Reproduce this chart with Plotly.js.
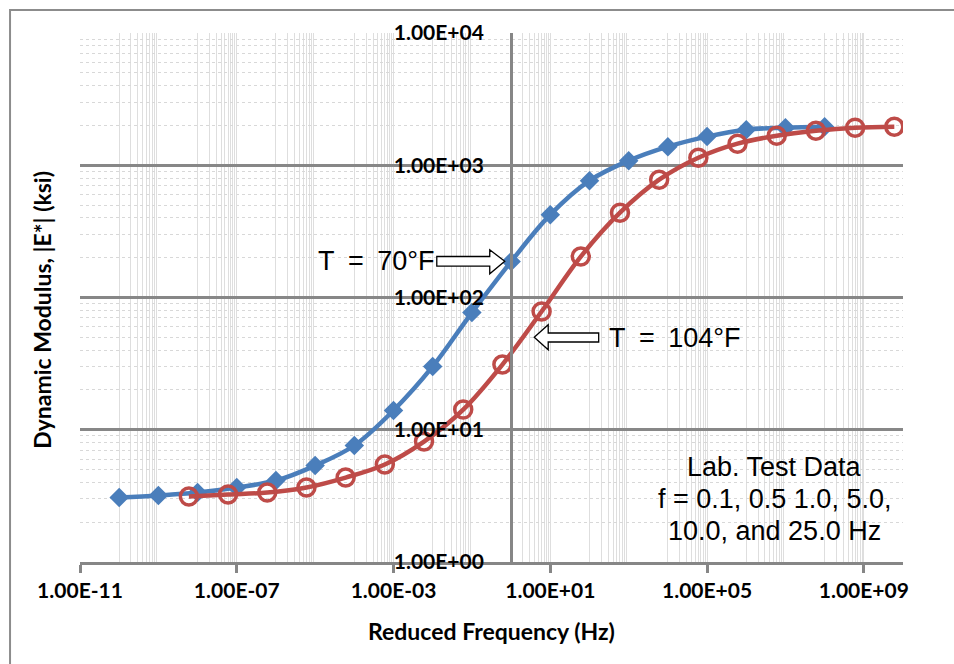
<!DOCTYPE html>
<html>
<head>
<meta charset="utf-8">
<script src="https://cdn.plot.ly/plotly-3.0.1.min.js"></script>
<style>html,body{margin:0;padding:0;background:#fff;}</style>
</head>
<body>
<div id="chart" style="width:954px;height:664px;"></div>
<script>
// ---- data ----
const freq70 = [1e-10, 1e-9, 1e-8, 1e-7, 1e-6, 1e-5, 1e-4, 1e-3, 1e-2, 1e-1, 1e0, 1e1, 1e2, 1e3, 1e4, 1e5, 1e6, 1e7, 1e8];
const mod70 = [3.07, 3.18, 3.35, 3.66, 4.13, 5.36, 7.6, 14.0, 30.1, 76.9, 187, 423, 765, 1083, 1383, 1647, 1859, 1925, 1958];
const freq104 = [6e-9, 6e-8, 6e-7, 6e-6, 6e-5, 6e-4, 6e-3, 6e-2, 6e-1, 6e0, 6e1, 6e2, 6e3, 6e4, 6e5, 6e6, 6e7, 6e8, 6e9];
const mod104 = [3.13, 3.24, 3.35, 3.66, 4.35, 5.46, 8.14, 14.2, 31.1, 78.4, 204, 438, 778, 1140, 1456, 1674, 1825, 1925, 1958];

const xTickVals = [1e-11, 1e-7, 1e-3, 1e1, 1e5, 1e9];
const xTickText = ['1.00E-11', '1.00E-07', '1.00E-03', '1.00E+01', '1.00E+05', '1.00E+09'];
const yTickVals = [1, 10, 100, 1000, 10000];
const yTickText = ['1.00E+00', '1.00E+01', '1.00E+02', '1.00E+03', '1.00E+04'];

const xTitle = 'Reduced Frequency (Hz)';
const yTitle = 'Dynamic Modulus, |E*| (ksi)';
const label70 = 'T\u2002=\u200270°F';
const label104 = 'T\u2002=\u2002104°F';
const noteLines = ['Lab. Test Data', 'f = 0.1, 0.5 1.0, 5.0,', '10.0, and 25.0 Hz'];

// ---- minor vertical grid (Excel base-10000 log pattern) ----
const minorDecades = [-10, -8, -6, -4, -2, 0, 2, 4, 6, 8];
const minorDigits = [1, 2, 3, 4, 5, 6, 7, 8, 9];
const xMinor = [];
minorDecades.forEach(d => minorDigits.forEach(m => xMinor.push(m * Math.pow(10, d))));
xMinor.push(1e10);

// ---- layout helpers (pixel -> paper) ----
const L = 80, R = 903.5, T = 33, B = 562.5;
const px = x => (x - L) / (R - L);
const py = y => (B - y) / (B - T);
function path(pts) {
  return 'M' + pts.map(p => px(p[0]).toFixed(5) + ',' + py(p[1]).toFixed(5)).join(' L') + ' Z';
}

const tickFont = {family: 'Lato, sans-serif', size: 21, color: '#000', weight: 700};
const xTitleFont = {family: 'Lato, sans-serif', size: 23, color: '#000', weight: 700};
const yTitleFont = {family: 'Lato, sans-serif', size: 23, color: '#000', weight: 700};
const annFont = {family: 'Liberation Sans, Arial, sans-serif', size: 27, color: '#000'};

const traces = [
  {
    x: freq70, y: mod70, mode: 'lines+markers', name: 'T = 70°F',
    line: {color: '#4A7EBB', width: 4.5, shape: 'spline', smoothing: 1},
    marker: {symbol: 'diamond', size: 15, color: '#4A7EBB'}
  },
  {
    x: freq104, y: mod104, mode: 'lines+markers', name: 'T = 104°F',
    line: {color: '#BE4B48', width: 4.5, shape: 'spline', smoothing: 1},
    marker: {symbol: 'circle-open', size: 17, color: '#BE4B48', line: {width: 3.5, color: '#BE4B48'}}
  }
];

const layout = {
  width: 954, height: 664,
  margin: {l: L, r: 954 - R, t: T, b: 664 - B, pad: 0},
  paper_bgcolor: '#fff', plot_bgcolor: '#fff',
  showlegend: false,
  xaxis: {
    type: 'log', range: [-11, 10], domain: [0, 1],
    tickmode: 'array', tickvals: xTickVals, ticktext: xTickText,
    ticks: 'outside', ticklen: 8, tickwidth: 3, tickcolor: '#868686',
    showline: true, linecolor: '#868686', linewidth: 3,
    showgrid: true, gridcolor: '#dedede', gridwidth: 1,
    zeroline: false, tickfont: tickFont, ticklabelstandoff: 0,
    minor: {tickmode: 'array', tickvals: xMinor, showgrid: true, gridcolor: '#dedede', gridwidth: 1, ticks: ''}
  },
  yaxis: {
    type: 'log', range: [0, 4],
    anchor: 'free', position: 11 / 21,
    tickmode: 'array', tickvals: yTickVals, ticktext: yTickText,
    ticks: '', showline: true, linecolor: '#868686', linewidth: 3,
    showgrid: true, gridcolor: '#878787', gridwidth: 3,
    zeroline: false, tickfont: tickFont, ticklabelstandoff: 22,
    minor: {dtick: 'D1', showgrid: true, gridcolor: '#d8d8d8', gridwidth: 1, griddash: 'dot', ticks: ''}
  },
  shapes: [
    {type: 'rect', xref: 'paper', yref: 'paper', x0: px(10), x1: px(966), y0: py(676), y1: py(10),
     line: {color: '#8c8c8c', width: 2}, fillcolor: 'rgba(0,0,0,0)', layer: 'below'},
    {type: 'path', xref: 'paper', yref: 'paper',
     path: path([[437, 256.7], [490, 256.7], [490, 250], [505, 261.5], [490, 274], [490, 266.3], [437, 266.3]]),
     line: {color: '#000', width: 1.3}, fillcolor: '#fff'},
    {type: 'path', xref: 'paper', yref: 'paper',
     path: path([[599, 333.3], [548.5, 333.3], [548.5, 325], [534.5, 337.5], [548.5, 350], [548.5, 342.3], [599, 342.3]]),
     line: {color: '#000', width: 1.3}, fillcolor: '#fff'}
  ],
  annotations: [
    {xref: 'paper', yref: 'paper', x: px(437), y: py(261), xanchor: 'right', yanchor: 'middle',
     text: label70, showarrow: false, font: annFont},
    {xref: 'paper', yref: 'paper', x: px(607), y: py(338), xanchor: 'left', yanchor: 'middle',
     text: label104, showarrow: false, font: annFont},
    {xref: 'paper', yref: 'paper', x: px(775), y: py(467), xanchor: 'center', yanchor: 'middle',
     text: noteLines[0], showarrow: false, font: annFont},
    {xref: 'paper', yref: 'paper', x: px(775), y: py(499), xanchor: 'center', yanchor: 'middle',
     text: noteLines[1], showarrow: false, font: annFont},
    {xref: 'paper', yref: 'paper', x: px(775), y: py(531), xanchor: 'center', yanchor: 'middle',
     text: noteLines[2], showarrow: false, font: annFont},
    {xref: 'paper', yref: 'paper', x: px(492), y: py(632), xanchor: 'center', yanchor: 'middle',
     text: xTitle, showarrow: false, font: xTitleFont},
    {xref: 'paper', yref: 'paper', x: px(42), y: py(310), xanchor: 'center', yanchor: 'middle',
     text: yTitle, textangle: -90, showarrow: false, font: yTitleFont}
  ]
};

Plotly.newPlot('chart', traces, layout, {displayModeBar: false, staticPlot: true});
</script>
</body>
</html>
